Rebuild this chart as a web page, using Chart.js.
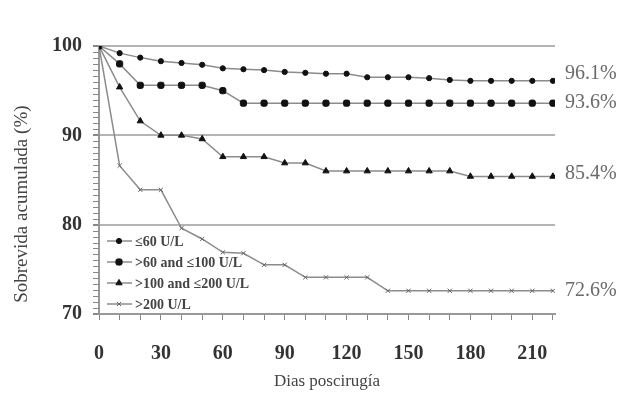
<!DOCTYPE html>
<html>
<head>
<meta charset="utf-8">
<script src="https://cdn.jsdelivr.net/npm/chart.js@4.4.1/dist/chart.umd.min.js"></script>
<style>
html, body { margin: 0; padding: 0; background: #fff; }
</style>
</head>
<body>
<canvas id="survivalChart" width="631" height="400"></canvas>
<script>
// Días de seguimiento (cada 10 días)
const dias = [0, 10, 20, 30, 40, 50, 60, 70, 80, 90, 100, 110, 120, 130, 140, 150, 160, 170, 180, 190, 200, 210, 220];

// Sobrevida acumulada (%) por grupo
const hasta60 = [100, 99.2, 98.7, 98.3, 98.1, 97.9, 97.5, 97.4, 97.3, 97.1, 97.0, 96.9, 96.9, 96.5, 96.5, 96.5, 96.4, 96.2, 96.1, 96.1, 96.1, 96.1, 96.1];
const de60a100 = [100, 98.0, 95.6, 95.6, 95.6, 95.6, 95.0, 93.6, 93.6, 93.6, 93.6, 93.6, 93.6, 93.6, 93.6, 93.6, 93.6, 93.6, 93.6, 93.6, 93.6, 93.6, 93.6];
const de100a200 = [100, 95.4, 91.6, 90.0, 90.0, 89.6, 87.6, 87.6, 87.6, 86.9, 86.9, 86.0, 86.0, 86.0, 86.0, 86.0, 86.0, 86.0, 85.4, 85.4, 85.4, 85.4, 85.4];
const mas200 = [100, 86.6, 83.9, 83.9, 79.6, 78.4, 76.9, 76.8, 75.5, 75.5, 74.1, 74.1, 74.1, 74.1, 72.6, 72.6, 72.6, 72.6, 72.6, 72.6, 72.6, 72.6, 72.6];

const nombres = ['\u226460 U/L', '>60 and \u2264100 U/L', '>100 and \u2264200 U/L', '>200 U/L'];
const etiquetasFinales = ['96.1%', '93.6%', '85.4%', '72.6%'];

const serif = '"Liberation Serif", "Times New Roman", serif';

function puntos(valores) {
	return dias.map((d, i) => ({ x: d, y: valores[i] }));
}

function serie(label, valores, estilo, radio, color) {
	return {
		label: label,
		data: puntos(valores),
		borderColor: '#8c8c8c',
		borderWidth: 1.5,
		pointStyle: estilo,
		pointRadius: radio,
		pointBackgroundColor: color,
		pointBorderColor: color,
		pointBorderWidth: 1,
		tension: 0
	};
}

// Leyenda dentro del área, etiquetas finales, título Y y marcas menores del eje Y
const extrasPlugin = {
	id: 'extras',
	afterDatasetsDraw(chart) {
		const { ctx, chartArea } = chart;
		ctx.save();

		// marcas menores del eje Y
		const ejeY = chart.scales.y;
		ctx.strokeStyle = '#888';
		ctx.lineWidth = 1;
		for (let i = 0; i <= 45; i++) {
			const py = Math.round(ejeY.getPixelForValue(70 + i * 10 / 15)) + 0.5;
			ctx.beginPath();
			ctx.moveTo(chartArea.left - 6, py);
			ctx.lineTo(chartArea.left, py);
			ctx.stroke();
		}

		// título del eje Y (algo más abajo que el centro del eje)
		ctx.save();
		ctx.translate(22, ejeY.getPixelForValue(82.3));
		ctx.rotate(-Math.PI / 2);
		ctx.font = '19px ' + serif;
		ctx.fillStyle = '#444';
		ctx.textAlign = 'center';
		ctx.textBaseline = 'middle';
		ctx.fillText('Sobrevida acumulada (%)', 0, 0);
		ctx.restore();

		// etiquetas al final de cada curva
		const desplaz = [-7, 0, -3, 0];
		ctx.font = '20px ' + serif;
		ctx.fillStyle = '#6a6a6a';
		ctx.textBaseline = 'middle';
		chart.data.datasets.forEach((ds, i) => {
			const meta = chart.getDatasetMeta(i);
			const ultimo = meta.data[meta.data.length - 1];
			ctx.fillText(etiquetasFinales[i], ultimo.x + 12, ultimo.y + desplaz[i]);
		});

		// leyenda
		chart.data.datasets.forEach((ds, i) => {
			const x = chartArea.left + 8;
			const y = chartArea.bottom - 73 + i * 21;
			ctx.strokeStyle = ds.borderColor;
			ctx.lineWidth = ds.borderWidth;
			ctx.beginPath();
			ctx.moveTo(x, y);
			ctx.lineTo(x + 25, y);
			ctx.stroke();
			ctx.fillStyle = ds.pointBackgroundColor;
			ctx.strokeStyle = ds.pointBorderColor;
			ctx.lineWidth = 1;
			Chart.helpers.drawPoint(ctx, { pointStyle: ds.pointStyle, radius: ds.pointRadius, rotation: 0, borderWidth: 1 }, x + 12, y);
			ctx.fillStyle = '#444';
			ctx.font = 'bold 14px ' + serif;
			ctx.fillText(ds.label, x + 28, y + 1);
		});
		ctx.restore();
	}
};

new Chart(document.getElementById('survivalChart'), {
	type: 'line',
	data: {
		datasets: [
			serie(nombres[0], hasta60, 'circle', 2.6, '#111'),
			serie(nombres[1], de60a100, 'rectRounded', 3.6, '#111'),
			serie(nombres[2], de100a200, 'triangle', 3.6, '#111'),
			serie(nombres[3], mas200, 'crossRot', 3, '#666')
		]
	},
	options: {
		responsive: false,
		animation: false,
		layout: { padding: { top: 46, right: 76, left: 0, bottom: 0 } },
		plugins: {
			legend: { display: false },
			tooltip: { enabled: false }
		},
		scales: {
			x: {
				type: 'linear',
				min: 0,
				max: 221,
				afterFit: s => { s.height = 86; },
				ticks: {
					stepSize: 10,
					autoSkip: false,
					includeBounds: false,
					maxRotation: 0,
					padding: 22,
					color: '#333',
					font: { family: serif, size: 20, weight: 'bold' },
					callback: v => (v % 30 === 0 ? v : '')
				},
				grid: { drawOnChartArea: false, tickLength: 6, tickColor: '#888' },
				border: { color: '#999', width: 2 },
				title: {
					display: true,
					text: 'Dias poscirugía',
					color: '#444',
					font: { family: serif, size: 17 },
					padding: { bottom: 8 }
				}
			},
			y: {
				min: 70,
				max: 100,
				afterFit: s => { s.width = 99; },
				ticks: {
					stepSize: 10,
					padding: 11,
					color: '#333',
					font: { family: serif, size: 20, weight: 'bold' }
				},
				grid: {
					color: c => (c.tick && c.tick.value > 70 ? '#b4b4b4' : 'rgba(0,0,0,0)'),
					lineWidth: 2,
					tickLength: 6,
					tickColor: '#888'
				},
				border: { color: '#999', width: 2 }
			}
		}
	},
	plugins: [extrasPlugin]
});
</script>
</body>
</html>
